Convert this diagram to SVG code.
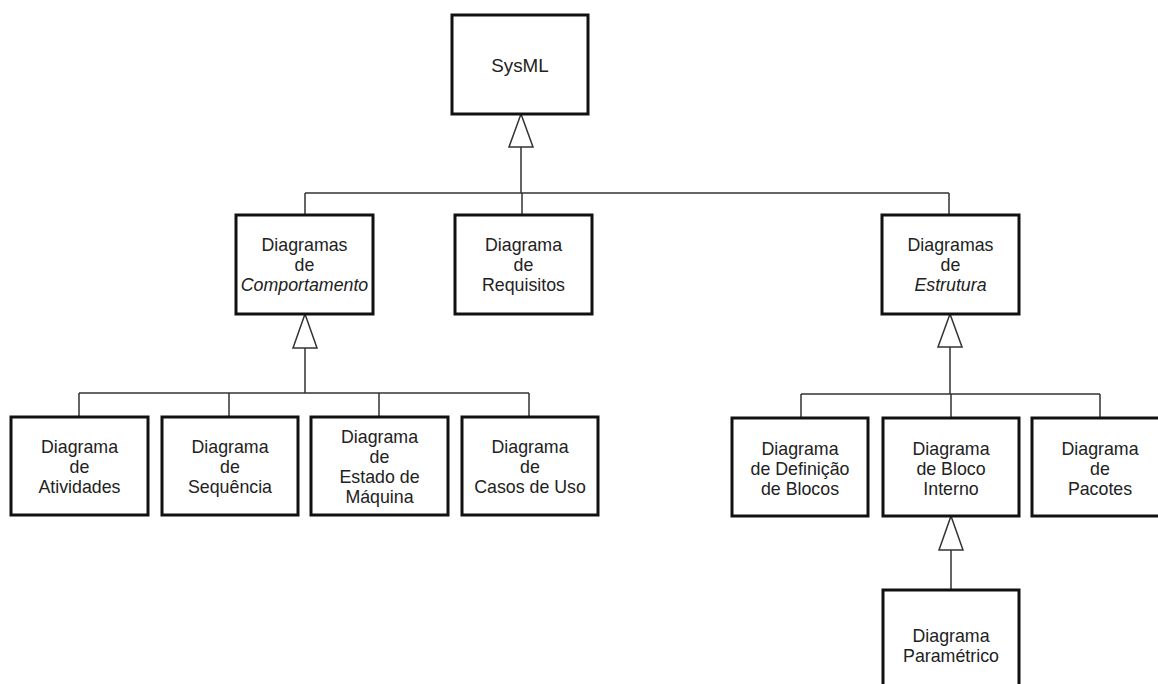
<svg xmlns="http://www.w3.org/2000/svg" width="1158" height="684" viewBox="0 0 1158 684">
<style>
.box{fill:#fff;stroke:#111;stroke-width:3}
.t{font-family:"Liberation Sans",Arial,sans-serif;font-size:17.8px;fill:#222;text-anchor:middle}
.i{font-style:italic}
.c{fill:none;stroke:#333;stroke-width:1.5}
.tri{fill:#fff;stroke:#333;stroke-width:1.5;stroke-linejoin:miter}
</style>
<rect width="1158" height="684" fill="#fff"/>
<g id="connectors">
<path class="c" d="M521 147V193M305 193H949M305 193V215M522 193V215M949 193V215"/>
<polygon class="tri" points="521,114 509,147 533,147"/>
<path class="c" d="M305 348V393M79 393H529M79 393V417M229 393V417M379 393V417M529 393V417"/>
<polygon class="tri" points="305,314 293,348 317,348"/>
<path class="c" d="M950 347V394M801 394H1100M801 394V418M951 394V418M1100 394V418"/>
<polygon class="tri" points="950,314 938,347 962,347"/>
<path class="c" d="M951 550V590"/>
<polygon class="tri" points="951,516 939,550 963,550"/>
</g>
<g id="sysml"><rect class="box" x="452" y="15" width="136" height="99"/><text class="t" x="520" y="72" style="font-size:18.8px">SysML</text></g>
<g id="comportamento"><rect class="box" x="236" y="215" width="137" height="99"/><text class="t" x="304.5" y="251">Diagramas</text><text class="t" x="304.5" y="271">de</text><text class="t i" x="304.5" y="291">Comportamento</text></g>
<g id="requisitos"><rect class="box" x="455" y="215" width="137" height="99"/><text class="t" x="523.5" y="251">Diagrama</text><text class="t" x="523.5" y="271">de</text><text class="t" x="523.5" y="291">Requisitos</text></g>
<g id="estrutura"><rect class="box" x="882" y="215" width="137" height="99"/><text class="t" x="950.5" y="251">Diagramas</text><text class="t" x="950.5" y="271">de</text><text class="t i" x="950.5" y="291">Estrutura</text></g>
<g id="atividades"><rect class="box" x="11" y="417" width="137" height="98"/><text class="t" x="79.5" y="453">Diagrama</text><text class="t" x="79.5" y="473">de</text><text class="t" x="79.5" y="493">Atividades</text></g>
<g id="sequencia"><rect class="box" x="162" y="417" width="136" height="98"/><text class="t" x="230" y="453">Diagrama</text><text class="t" x="230" y="473">de</text><text class="t" x="230" y="493">Sequência</text></g>
<g id="estado"><rect class="box" x="311" y="417" width="137" height="98"/><text class="t" x="379.5" y="443">Diagrama</text><text class="t" x="379.5" y="463">de</text><text class="t" x="379.5" y="483">Estado de</text><text class="t" x="379.5" y="503">Máquina</text></g>
<g id="casos"><rect class="box" x="462" y="417" width="136" height="98"/><text class="t" x="530" y="453">Diagrama</text><text class="t" x="530" y="473">de</text><text class="t" x="530" y="493">Casos de Uso</text></g>
<g id="definicao"><rect class="box" x="732" y="418" width="136" height="98"/><text class="t" x="800" y="455">Diagrama</text><text class="t" x="800" y="475">de Definição</text><text class="t" x="800" y="495">de Blocos</text></g>
<g id="bloco-interno"><rect class="box" x="883" y="418" width="136" height="98"/><text class="t" x="951" y="455">Diagrama</text><text class="t" x="951" y="475">de Bloco</text><text class="t" x="951" y="495">Interno</text></g>
<g id="pacotes"><rect class="box" x="1032" y="418" width="136" height="98"/><text class="t" x="1100" y="455">Diagrama</text><text class="t" x="1100" y="475">de</text><text class="t" x="1100" y="495">Pacotes</text></g>
<g id="parametrico"><rect class="box" x="883" y="590" width="136" height="99"/><text class="t" x="951" y="642">Diagrama</text><text class="t" x="951" y="662">Paramétrico</text></g>
</svg>
